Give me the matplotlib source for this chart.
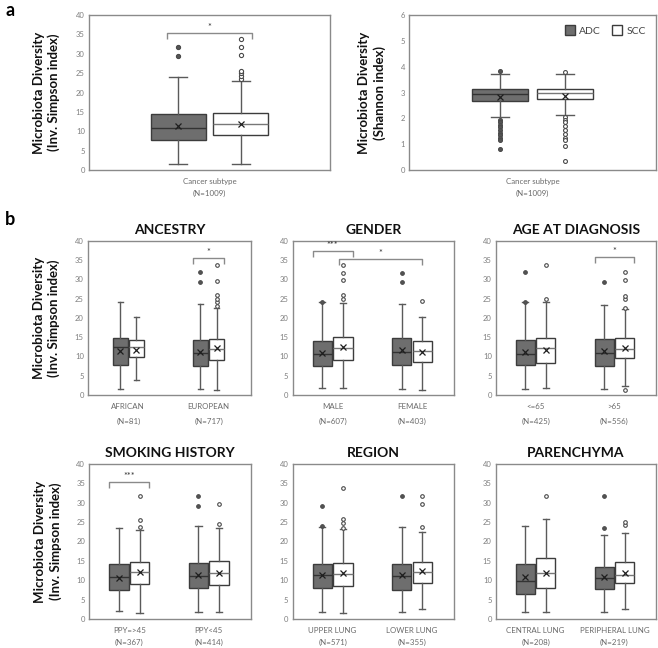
import matplotlib
matplotlib.use("Agg")
import matplotlib.pyplot as plt
from matplotlib.patches import Patch

plt.rcParams['font.family'] = ['Lato', 'DejaVu Sans']

# ---------------- DATA ----------------
# Panel a: inverse Simpson, [ADC, SCC]
a_simp_q1 = [7.7, 9.0]
a_simp_med = [10.9, 11.9]
a_simp_q3 = [14.4, 14.6]
a_simp_lo = [1.6, 1.5]
a_simp_hi = [24.1, 23.0]
a_simp_mean = [11.3, 12.0]
a_simp_fliers = [[29.3, 31.8], [23.5, 24.2, 25.0, 25.6, 29.8, 31.8, 33.8]]

# Panel a: Shannon, [ADC, SCC]
a_shan_q1 = [2.68, 2.74]
a_shan_med = [2.93, 2.97]
a_shan_q3 = [3.15, 3.12]
a_shan_lo = [2.04, 2.13]
a_shan_hi = [3.73, 3.73]
a_shan_mean = [2.84, 2.88]
a_shan_fliers = [[3.83, 1.95, 1.85, 1.75, 1.65, 1.55, 1.45, 1.35, 1.25, 1.15, 0.81],
                 [3.81, 2.06, 1.95, 1.85, 1.7, 1.55, 1.4, 1.25, 1.15, 0.94, 0.34]]

# Panel b: boxes ordered [grp1 ADC, grp1 SCC, grp2 ADC, grp2 SCC]
anc_groups = ["AFRICAN", "EUROPEAN"]
anc_n = [81, 717]
anc_q1 = [7.7, 9.9, 7.6, 9.0]
anc_med = [12.35, 12.35, 10.8, 12.0]
anc_q3 = [14.7, 14.2, 14.2, 14.5]
anc_lo = [1.5, 3.9, 1.5, 1.3]
anc_hi = [24.2, 20.1, 23.6, 22.5]
anc_mean = [11.5, 11.7, 11.2, 12.1]
anc_fliers = [[], [], [29.4, 31.9], [23.0, 24.0, 25.0, 26.0, 29.6, 33.7]]

gen_groups = ["MALE", "FEMALE"]
gen_n = [607, 403]
gen_q1 = [7.5, 9.2, 7.9, 8.5]
gen_med = [10.6, 12.3, 11.1, 11.5]
gen_q3 = [14.0, 15.1, 14.9, 14.1]
gen_lo = [1.7, 1.7, 1.6, 1.3]
gen_hi = [24.0, 23.9, 23.6, 20.2]
gen_mean = [11.0, 12.4, 11.6, 11.1]
gen_fliers = [[24.1], [24.8, 25.9, 29.7, 31.7, 33.7], [29.3, 31.7], [24.4]]

age_groups = ["<=65", ">65"]
age_n = [425, 556]
age_q1 = [7.9, 8.2, 7.5, 9.5]
age_med = [10.6, 12.15, 11.0, 12.0]
age_q3 = [14.3, 14.75, 14.5, 14.7]
age_lo = [1.6, 1.7, 1.6, 2.3]
age_hi = [24.1, 24.0, 23.3, 22.4]
age_mean = [11.2, 11.7, 11.3, 12.3]
age_fliers = [[24.2, 31.8], [24.9, 33.8], [29.3], [1.3, 22.5, 25.0, 25.6, 29.8, 31.8]]

smk_groups = ["PPY=>45", "PPY<45"]
smk_n = [367, 414]
smk_q1 = [7.5, 9.0, 7.9, 8.9]
smk_med = [10.75, 12.2, 11.1, 11.8]
smk_q3 = [14.1, 14.8, 14.45, 15.0]
smk_lo = [2.15, 1.5, 1.7, 1.7]
smk_hi = [23.6, 23.0, 24.0, 23.4]
smk_mean = [10.7, 12.1, 11.35, 11.95]
smk_fliers = [[], [23.8, 25.5, 31.7], [29.2, 31.7], [24.4, 29.7]]

reg_groups = ["UPPER LUNG", "LOWER LUNG"]
reg_n = [571, 355]
reg_q1 = [7.9, 8.6, 7.6, 9.3]
reg_med = [11.3, 11.6, 11.0, 12.2]
reg_q3 = [14.2, 14.4, 14.2, 14.8]
reg_lo = [1.7, 1.5, 1.7, 2.7]
reg_hi = [23.8, 23.2, 23.7, 22.4]
reg_mean = [11.3, 11.8, 11.3, 12.4]
reg_fliers = [[24.0, 29.2], [23.4, 24.7, 25.7, 33.7], [31.7], [23.8, 29.7, 31.7]]

par_groups = ["CENTRAL LUNG", "PERIPHERAL LUNG"]
par_n = [208, 219]
par_q1 = [6.4, 7.9, 7.7, 9.2]
par_med = [9.9, 11.8, 10.5, 11.35]
par_q3 = [14.2, 15.65, 13.4, 14.8]
par_lo = [1.7, 1.7, 1.7, 2.6]
par_hi = [24.1, 25.8, 21.7, 22.1]
par_mean = [10.75, 11.95, 10.9, 11.95]
par_fliers = [[], [31.7], [23.6, 31.7], [24.2, 25.0]]

# significance: (box_i, box_j, level, label)
a_sig = [(0, 1, 35.3, "*")]
anc_sig = [(2, 3, 35.4, "*")]
gen_sig = [(0, 1, 37.4, "***"), (1, 3, 35.2, "*")]
age_sig = [(2, 3, 35.8, "*")]
smk_sig = [(0, 1, 35.4, "***")]

# ---------------- STYLE ----------------
ADC_FILL = "#6e6e6e"
EDGE = "#3c3c3c"
WHISK = "#5a5a5a"
SPINE = "#8a8a8a"
TICKC = "#7f7f7f"
LABC = "#6a6a6a"

W, H = 658, 648
fig = plt.figure(figsize=(W / 100, H / 100), dpi=100)


def rect(x0, x1, y0, y1):
    return [x0 / W, 1 - y1 / H, (x1 - x0) / W, (y1 - y0) / H]


def style_axes(ax, ymax, step):
    for s in ax.spines.values():
        s.set_color(SPINE)
        s.set_linewidth(1.0)
    ax.set_ylim(0, ymax)
    ax.set_yticks([i * step for i in range(int(round(ymax / step)) + 1)])
    ax.tick_params(axis='y', length=0, labelsize=5.5, labelcolor=TICKC, pad=3)
    ax.tick_params(axis='x', length=0)
    ax.set_xticks([])
    ax.set_xlim(0, 4)


def draw_boxes(ax, q1, med, q3, lo, hi, mean, fliers, positions, width, msize=2.6):
    for k in range(len(q1)):
        st = [dict(q1=q1[k], med=med[k], q3=q3[k], whislo=lo[k], whishi=hi[k],
                   mean=mean[k], fliers=fliers[k])]
        adc = (k % 2 == 0)
        fill = ADC_FILL if adc else "white"
        medc = "#333333" if adc else "#777777"
        fmarker = dict(marker='o', markersize=msize, markeredgewidth=0.8,
                       markeredgecolor="#4a4a4a",
                       markerfacecolor="#555555" if adc else "white", linestyle='none')
        ax.bxp(st, positions=[positions[k]], widths=[width], patch_artist=True,
               showmeans=True, showfliers=True,
               boxprops=dict(facecolor=fill, edgecolor=EDGE, linewidth=1.0),
               medianprops=dict(color=medc, linewidth=1.0),
               whiskerprops=dict(color=WHISK, linewidth=1.0),
               capprops=dict(color=WHISK, linewidth=1.0),
               capwidths=[width * 0.32],
               meanprops=dict(marker='x', markeredgecolor="#1e1e1e", markersize=5,
                              markeredgewidth=0.9),
               flierprops=fmarker, manage_ticks=False)


def draw_sig(ax, sig, positions, width):
    for (i, j, lvl, lab) in sig:
        if (i // 2) == (j // 2):
            x1 = positions[i] - width * 0.5
            x2 = positions[j] + width * 0.5
        else:
            x1 = positions[i] - width * 0.2
            x2 = positions[j]
        ax.plot([x1, x1, x2, x2], [lvl - 1.5, lvl, lvl, lvl - 1.5],
                color="#8a8a8a", lw=1.0, solid_capstyle='butt')
        ax.text((x1 + x2) / 2, lvl + 0.3, lab, ha='center', va='bottom',
                fontsize=6.5, color="#333333")


def ylabel(ax, xc, text):
    ax.text(xc, 0.5, text, rotation=90, ha='center', va='center',
            transform=ax.transAxes, fontsize=9.5, fontweight='bold',
            linespacing=1.25, color="#111111")


def xlabels(ax, centers, names, ns, y1, y2):
    for c, nm, n in zip(centers, names, ns):
        ax.text(c, y1, nm, transform=ax.get_xaxis_transform(), ha='center',
                va='center', fontsize=5.7, color=LABC)
        ax.text(c, y2, "(N=%d)" % n, transform=ax.get_xaxis_transform(),
                ha='center', va='center', fontsize=5.7, color=LABC)


# ---------------- PANEL a ----------------
a_pos = [2 - 0.52, 2 + 0.52]
a_w = 0.91
ax1 = fig.add_axes(rect(89, 330, 15, 170))
style_axes(ax1, 40, 5)
draw_boxes(ax1, a_simp_q1, a_simp_med, a_simp_q3, a_simp_lo, a_simp_hi,
           a_simp_mean, a_simp_fliers, a_pos, a_w, msize=3.0)
draw_sig(ax1, a_sig, a_pos, a_w * 0.4)
ylabel(ax1, -0.175, "Microbiota Diversity\n(Inv. Simpson index)")
xlabels(ax1, [2], ["Cancer subtype"], [1009], -0.075, -0.15)

ax2 = fig.add_axes(rect(409, 656, 15, 170))
style_axes(ax2, 6, 1)
draw_boxes(ax2, a_shan_q1, a_shan_med, a_shan_q3, a_shan_lo, a_shan_hi,
           a_shan_mean, a_shan_fliers, a_pos, a_w, msize=2.8)
ylabel(ax2, -0.15, "Microbiota Diversity\n(Shannon index)")
xlabels(ax2, [2], ["Cancer subtype"], [1009], -0.075, -0.15)
handles = [Patch(facecolor=ADC_FILL, edgecolor=EDGE, label="ADC"),
           Patch(facecolor="white", edgecolor=EDGE, label="SCC")]
ax2.legend(handles=handles, loc='upper right', ncol=2, frameon=False,
           fontsize=7.5, handlelength=1.0, handleheight=1.0, handletextpad=0.4,
           columnspacing=1.0, borderaxespad=0.6, labelcolor="#444444")

fig.text(5 / W, 1 - 10 / H, "a", fontsize=13, fontweight='bold', va='center')
fig.text(5 / W, 1 - 219 / H, "b", fontsize=13, fontweight='bold', va='center')

# ---------------- PANEL b ----------------
panels = [
    ("ANCESTRY", (88, 251, 240.7, 395), anc_groups, anc_n, anc_q1, anc_med, anc_q3,
     anc_lo, anc_hi, anc_mean, anc_fliers, anc_sig, 0.37, 0.2, True),
    ("GENDER", (292.7, 454, 240.7, 395), gen_groups, gen_n, gen_q1, gen_med, gen_q3,
     gen_lo, gen_hi, gen_mean, gen_fliers, gen_sig, 0.48, 0.256, False),
    ("AGE AT DIAGNOSIS", (496, 656, 240.7, 395), age_groups, age_n, age_q1, age_med,
     age_q3, age_lo, age_hi, age_mean, age_fliers, age_sig, 0.48, 0.256, False),
    ("SMOKING HISTORY", (89.3, 250.7, 464, 619), smk_groups, smk_n, smk_q1, smk_med,
     smk_q3, smk_lo, smk_hi, smk_mean, smk_fliers, smk_sig, 0.48, 0.256, True),
    ("REGION", (292.7, 454, 464, 619), reg_groups, reg_n, reg_q1, reg_med, reg_q3,
     reg_lo, reg_hi, reg_mean, reg_fliers, [], 0.48, 0.256, False),
    ("PARENCHYMA", (496, 656, 464, 619), par_groups, par_n, par_q1, par_med, par_q3,
     par_lo, par_hi, par_mean, par_fliers, [], 0.48, 0.256, False),
]

centers = [0.99, 2.96]
for idx, (title, r, groups, ns, q1, med, q3, lo, hi, mean, fl, sig, w, off, haslab) in enumerate(panels):
    ax = fig.add_axes(rect(*r))
    style_axes(ax, 40, 5)
    pos = [centers[0] - off, centers[0] + off, centers[1] - off, centers[1] + off]
    draw_boxes(ax, q1, med, q3, lo, hi, mean, fl, pos, w)
    draw_sig(ax, sig, pos, w)
    ax.set_title(title, fontsize=10, fontweight='bold', pad=5, color="#111111")
    if idx < 3:
        xlabels(ax, centers, groups, ns, -0.072, -0.172)
    else:
        xlabels(ax, centers, groups, ns, -0.072, -0.152)
    if haslab:
        ylabel(ax, -0.255, "Microbiota Diversity\n(Inv. Simpson index)")

fig.savefig("out.png", dpi=100)
